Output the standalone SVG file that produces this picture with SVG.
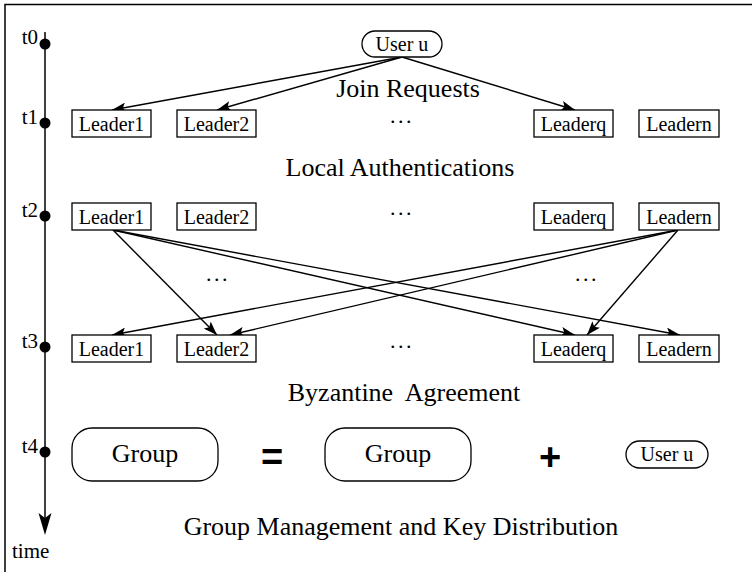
<svg xmlns="http://www.w3.org/2000/svg" width="752" height="572" viewBox="0 0 752 572">
<style>
.t{font-family:"Liberation Serif","Times New Roman",serif;fill:#000}
.lb{font-size:20px;text-anchor:middle}
.dots{font-size:22px;text-anchor:middle;letter-spacing:2.5px}
.big{font-size:26px;text-anchor:middle}
.tl{font-size:21px;text-anchor:end}
.box{fill:#fff;stroke:#000;stroke-width:1.3}
.ln{stroke:#000;stroke-width:1.4;fill:none;marker-end:url(#ah)}
.op{font-family:"Liberation Sans",Arial,sans-serif;font-weight:bold;font-size:38px;text-anchor:middle}
</style>
<defs>
<marker id="ah" viewBox="0 0 14 10" refX="14" refY="5" markerWidth="14" markerHeight="10" markerUnits="userSpaceOnUse" orient="auto">
<path d="M0,0 L14,5 L0,10 L3,5 z" fill="#000"/>
</marker>
</defs>
<rect width="752" height="572" fill="#fff"/>
<path d="M5,572 V4.5 H752" fill="none" stroke="#000" stroke-width="1.5"/>

<g id="timeline">
<line x1="45" y1="32" x2="45" y2="518" stroke="#000" stroke-width="1.5"/>
<path d="M45,535 L38.5,513 L45,518 L51.5,513 z" fill="#000"/>
<circle cx="45" cy="44" r="5.5"/>
<circle cx="45" cy="123" r="5.5"/>
<circle cx="45" cy="216" r="5.5"/>
<circle cx="45" cy="347" r="5.5"/>
<circle cx="45" cy="452" r="5.5"/>
<text class="t tl" x="38" y="44">t0</text>
<text class="t tl" x="38" y="124">t1</text>
<text class="t tl" x="38" y="217">t2</text>
<text class="t tl" x="38" y="348">t3</text>
<text class="t tl" x="38" y="453" font-size="18">t4</text>
<text class="t" x="12" y="558" font-size="21">time</text>
</g>

<g id="connectors">
<line class="ln" x1="402" y1="57" x2="112" y2="110"/>
<line class="ln" x1="402" y1="57" x2="217" y2="110"/>
<line class="ln" x1="402" y1="57" x2="575" y2="110"/>
<line class="ln" x1="113" y1="230" x2="217" y2="335"/>
<line class="ln" x1="113" y1="230" x2="575" y2="335"/>
<line class="ln" x1="113" y1="230" x2="680" y2="335"/>
<line class="ln" x1="678" y1="230" x2="112" y2="335"/>
<line class="ln" x1="678" y1="230" x2="230" y2="335"/>
<line class="ln" x1="678" y1="230" x2="587" y2="335"/>
</g>

<g id="user-top">
<rect class="box" x="362" y="31" width="80" height="26" rx="13"/>
<text class="t lb" x="402" y="51">User u</text>
</g>
<text class="t big" x="408" y="97">Join Requests</text>

<g id="t1-leader1"><rect class="box" x="72" y="110" width="79" height="27"/><text class="t lb" x="111.5" y="131">Leader1</text></g>
<g id="t1-leader2"><rect class="box" x="177" y="110" width="79" height="27"/><text class="t lb" x="216.5" y="131">Leader2</text></g>
<text class="t dots" x="402" y="123">...</text>
<g id="t1-leaderq"><rect class="box" x="534" y="110" width="79" height="27"/><text class="t lb" x="573.5" y="131">Leaderq</text></g>
<g id="t1-leadern"><rect class="box" x="639" y="110" width="80" height="27"/><text class="t lb" x="679" y="131">Leadern</text></g>

<text class="t big" x="400" y="176">Local Authentications</text>

<g id="t2-leader1"><rect class="box" x="72" y="203" width="79" height="27"/><text class="t lb" x="111.5" y="224">Leader1</text></g>
<g id="t2-leader2"><rect class="box" x="177" y="203" width="79" height="27"/><text class="t lb" x="216.5" y="224">Leader2</text></g>
<text class="t dots" x="402" y="215">...</text>
<g id="t2-leaderq"><rect class="box" x="534" y="203" width="79" height="27"/><text class="t lb" x="573.5" y="224">Leaderq</text></g>
<g id="t2-leadern"><rect class="box" x="639" y="203" width="80" height="27"/><text class="t lb" x="679" y="224">Leadern</text></g>

<text class="t dots" x="218" y="281">...</text>
<text class="t dots" x="587" y="281">...</text>

<g id="t3-leader1"><rect class="box" x="72" y="335" width="79" height="27"/><text class="t lb" x="111.5" y="356">Leader1</text></g>
<g id="t3-leader2"><rect class="box" x="177" y="335" width="79" height="27"/><text class="t lb" x="216.5" y="356">Leader2</text></g>
<text class="t dots" x="402" y="348">...</text>
<g id="t3-leaderq"><rect class="box" x="534" y="335" width="79" height="27"/><text class="t lb" x="573.5" y="356">Leaderq</text></g>
<g id="t3-leadern"><rect class="box" x="639" y="335" width="80" height="27"/><text class="t lb" x="679" y="356">Leadern</text></g>

<text class="t big" x="404" y="401" xml:space="preserve">Byzantine  Agreement</text>

<g id="group-new"><rect class="box" x="72" y="428" width="146" height="53" rx="20"/><text class="t big" x="145" y="462">Group</text></g>
<text class="op" x="272" y="470">=</text>
<g id="group-old"><rect class="box" x="325" y="428" width="146" height="53" rx="20"/><text class="t big" x="398" y="462">Group</text></g>
<text class="op" x="550" y="470">+</text>
<g id="user-bottom"><rect class="box" x="626" y="441" width="82" height="27" rx="13.5"/><text class="t lb" x="667" y="461">User u</text></g>

<text class="t big" x="401" y="535">Group Management and Key Distribution</text>
</svg>
